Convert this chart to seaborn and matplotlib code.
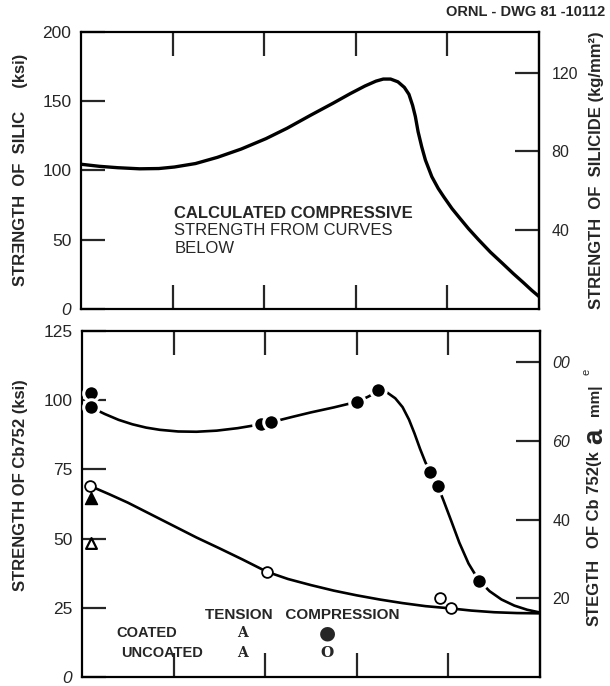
import matplotlib
matplotlib.use("Agg")
import matplotlib.pyplot as plt
import seaborn as sns

KSI_PER_KGMM2 = 1.422

# Upper panel: calculated compressive strength of the silicide (ksi)
silicide_x = [0.00, 0.20, 0.40, 0.64, 0.85, 1.02, 1.25, 1.49, 1.75, 2.02, 2.25,
              2.51, 2.75, 2.94, 3.10, 3.22, 3.30, 3.38, 3.46, 3.53, 3.58, 3.62,
              3.65, 3.68, 3.72, 3.76, 3.83, 3.90, 3.96, 4.05, 4.13, 4.23, 4.34,
              4.47, 4.60, 4.72, 4.83, 4.92, 5.00]
silicide_ksi = [104.5, 103.0, 102.0, 101.2, 101.4, 102.5, 105.0, 109.5, 115.5, 123.0, 130.5,
                140.0, 148.5, 155.5, 161.0, 164.5, 166.0, 166.0, 164.0, 160.0, 155.0, 147.0,
                139.0, 128.0, 117.0, 107.5, 95.5, 87.0, 81.0, 72.5, 66.0, 58.0, 50.0,
                41.0, 33.0, 25.5, 19.0, 13.5, 9.0]

# Lower panel: Cb752 compression curves (ksi)
coated_curve_x = [0.10, 0.25, 0.40, 0.55, 0.70, 0.85, 1.05, 1.25, 1.47, 1.70, 1.90,
                  2.06, 2.30, 2.50, 2.75, 3.00, 3.12, 3.24, 3.33, 3.42, 3.50, 3.57,
                  3.63, 3.69, 3.75, 3.80, 3.885, 3.95, 4.03, 4.12, 4.22, 4.33, 4.45,
                  4.58, 4.72, 4.86, 5.00]
coated_curve_ksi = [97.4, 95.0, 92.9, 91.3, 90.1, 89.3, 88.7, 88.6, 89.0, 89.9, 91.0,
                    92.0, 94.0, 95.6, 97.4, 99.4, 101.2, 103.3, 102.8, 100.7, 97.5, 93.0,
                    88.0, 82.5, 77.5, 74.2, 69.0, 63.5, 56.5, 48.5, 41.0, 35.0, 31.0,
                    28.0, 25.8, 24.3, 23.3]
uncoated_curve_x = [0.09, 0.30, 0.50, 0.75, 1.00, 1.25, 1.50, 1.75, 2.02, 2.25, 2.50,
                    2.75, 3.00, 3.25, 3.50, 3.75, 4.02, 4.25, 4.50, 4.75, 5.00]
uncoated_curve_ksi = [69.0, 66.0, 63.0, 58.8, 54.6, 50.4, 46.5, 42.5, 38.0, 35.4, 33.2,
                      31.2, 29.5, 28.0, 26.7, 25.6, 24.8, 24.0, 23.4, 23.1, 23.0]

# Measured points
coated_comp_x = [0.10, 0.10, 1.955, 2.06, 3.00, 3.235, 3.80, 3.885, 4.33]
coated_comp_ksi = [102.7, 97.4, 91.4, 92.2, 99.3, 103.7, 74.2, 69.0, 34.7]
uncoated_comp_x = [0.09, 2.015, 3.91, 4.025]
uncoated_comp_ksi = [69.0, 38.0, 28.4, 24.8]
coated_tens_x = [0.10]
coated_tens_ksi = [64.5]
uncoated_tens_x = [0.10]
uncoated_tens_ksi = [48.4]

left_ticks_top = [0, 50, 100, 150, 200]
right_ticks_top = [40, 80, 120]
left_ticks_bot = [0, 25, 50, 75, 100, 125]
right_ticks_bot = [20, 40, 60, 80]
right_labels_bot = ["20", "40", "60", "00"]
x_ticks = [1, 2, 3, 4]

sns.set_style("white")
plt.rcParams["font.family"] = ["Liberation Sans", "DejaVu Sans"]

fig = plt.figure(figsize=(6.1, 6.86), dpi=100)
ax1 = fig.add_axes([0.1328, 0.5496, 0.7508, 0.4038])
ax2 = fig.add_axes([0.1344, 0.0131, 0.7508, 0.5044])

sns.lineplot(x=silicide_x, y=silicide_ksi, ax=ax1, color="black", lw=2.4,
             sort=False, estimator=None)

sns.lineplot(x=coated_curve_x, y=coated_curve_ksi, ax=ax2, color="black", lw=1.9,
             sort=False, estimator=None)
sns.lineplot(x=uncoated_curve_x, y=uncoated_curve_ksi, ax=ax2, color="black", lw=1.9,
             sort=False, estimator=None)
sns.scatterplot(x=coated_comp_x, y=coated_comp_ksi, ax=ax2, marker="o", s=125,
                color="black", edgecolor="white", linewidth=2.2, zorder=4)
sns.scatterplot(x=uncoated_comp_x, y=uncoated_comp_ksi, ax=ax2, marker="o", s=60,
                color="white", edgecolor="black", linewidth=1.3, zorder=4)
sns.scatterplot(x=coated_tens_x, y=coated_tens_ksi, ax=ax2, marker="^", s=75,
                color="black", edgecolor="black", linewidth=1.0, zorder=4)
sns.scatterplot(x=uncoated_tens_x, y=uncoated_tens_ksi, ax=ax2, marker="^", s=60,
                color="white", edgecolor="black", linewidth=1.6, zorder=4)

for ax in (ax1, ax2):
    ax.set_xlim(0, 5)
    ax.set_xticks(x_ticks)
    ax.tick_params(axis="x", direction="in", top=True, bottom=True, length=17,
                   width=1.6, labelbottom=False)
    ax.tick_params(axis="y", direction="in", left=True, length=17, width=1.6,
                   labelsize=12.5, pad=7)
    for sp in ax.spines.values():
        sp.set_linewidth(1.6)
        sp.set_color("black")
    ax.set_xlabel("")
    ax.set_ylabel("")

ax1.set_ylim(0, 200)
ax1.set_yticks(left_ticks_top)
ax1.set_yticklabels([str(v) for v in left_ticks_top])
ax2.set_ylim(0, 125)
ax2.set_yticks(left_ticks_bot)
ax2.set_yticklabels([str(v) for v in left_ticks_bot])
for ax in (ax1, ax2):
    ax.get_yticklabels()[0].set_style("italic")

to_kg = (lambda v: v / KSI_PER_KGMM2, lambda v: v * KSI_PER_KGMM2)
sec1 = ax1.secondary_yaxis("right", functions=to_kg)
sec1.set_yticks(right_ticks_top)
sec1.set_yticklabels([str(v) for v in right_ticks_top])
sec2 = ax2.secondary_yaxis("right", functions=to_kg)
sec2.set_yticks(right_ticks_bot)
sec2.set_yticklabels(right_labels_bot)
for sec in (sec1, sec2):
    sec.tick_params(direction="in", length=17, width=1.6, labelsize=11.5, pad=9)
    sec.spines["right"].set_linewidth(1.6)
for lab in sec2.get_yticklabels():
    if lab.get_text() in ("60", "00"):
        lab.set_style("italic")

# Upper-panel note
ax1.text(1.02, 69, "CALCULATED COMPRESSIVE", fontsize=12, fontweight="bold",
         va="center", ha="left")
ax1.text(1.02, 57, "STRENGTH FROM CURVES", fontsize=12, va="center", ha="left")
ax1.text(1.02, 44, "BELOW", fontsize=12, va="center", ha="left")

# Lower-panel key
ax2.text(1.34, 22.4, "TENSION   COMPRESSION", fontsize=11, fontweight="bold",
         va="center", ha="left")
ax2.text(0.38, 15.8, "COATED", fontsize=10.5, fontweight="bold", va="center", ha="left")
ax2.text(0.43, 8.6, "UNCOATED", fontsize=10.5, fontweight="bold", va="center", ha="left")
for yv in (15.8, 8.6):
    ax2.text(1.75, yv, "A", fontsize=10, fontweight="bold", va="center", ha="center",
             family=["DejaVu Serif"])
ax2.text(2.68, 15.8, "\u25CF", fontsize=14, va="center", ha="center", family=["DejaVu Sans"])
ax2.text(2.68, 8.6, "O", fontsize=11, fontweight="bold", va="center", ha="center",
         family=["DejaVu Serif"])

# Axis titles
fig.text(21 / 610, 1 - 170 / 686, "STR\u018ENGTH  OF  SILIC     (ksi)", rotation=90,
         ha="center", va="center", fontsize=12, fontweight="bold")
fig.text(597 / 610, 1 - 170 / 686, "STRENGTH  OF  SILICIDE (kg/mm\u00b2)", rotation=90,
         ha="center", va="center", fontsize=12, fontweight="bold")
fig.text(21 / 610, 1 - 485 / 686, "STRENGTH OF Cb752 (ksi)", rotation=90,
         ha="center", va="center", fontsize=12, fontweight="bold")
fig.text(594 / 610, 1 - 592 / 686, "STEGTH", rotation=90, ha="center", va="center",
         fontsize=12, fontweight="bold")
fig.text(594 / 610, 1 - 500 / 686, "OF Cb 752(k", rotation=90, ha="center", va="center",
         fontsize=12, fontweight="bold")
fig.text(595 / 610, 1 - 436 / 686, "a", rotation=90, ha="center", va="center",
         fontsize=20, fontweight="bold")
fig.text(595 / 610, 1 - 400 / 686, "mm|", rotation=90, ha="center", va="center",
         fontsize=11, fontweight="bold")
fig.text(586 / 610, 1 - 372 / 686, "e", rotation=90, ha="center", va="center",
         fontsize=8)

fig.text(0.992, 1 - 12 / 686, "ORNL - DWG 81 -10112", ha="right", va="center",
         fontsize=10.5, fontweight="bold")

fig.savefig("out.png", dpi=100)
